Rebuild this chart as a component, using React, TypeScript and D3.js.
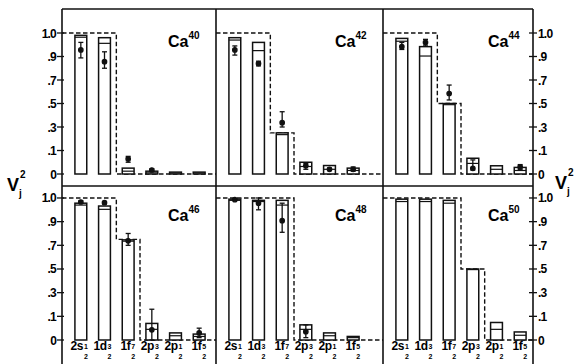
import React from 'react'
import * as d3 from 'd3'

// nuclei shown, panel order left->right, top->bottom
const masses = [40, 42, 44, 46, 48, 50]

// orbitals on the x axis (j written as n/2)
const orbitals = ['2s', '1d', '1f', '2p', '2p', '1f']
const orbitalJ = ['1', '3', '7', '3', '1', '5']

// the vertical axis is drawn with equally spaced ticks
const yTicks = [0, 0.1, 0.3, 0.5, 0.7, 0.9, 1.0]
const yTickLabels = ['0', '.1', '.3', '.5', '.7', '.9', '1.0']

// simple shell model occupancy (dashed step)
const shellModel = [
  [1, 1, 0, 0, 0, 0],
  [1, 1, 0.25, 0, 0, 0],
  [1, 1, 0.5, 0, 0, 0],
  [1, 1, 0.75, 0, 0, 0],
  [1, 1, 1, 0, 0, 0],
  [1, 1, 1, 0.5, 0, 0],
]

// calculated V^2 (bar top) and second calculation (line inside bar)
const barTop = [
  [0.99, 0.98, 0.025, 0.012, 0.008, 0.008],
  [0.98, 0.96, 0.25, 0.05, 0.036, 0.025],
  [0.977, 0.942, 0.5, 0.067, 0.035, 0.028],
  [0.978, 0.966, 0.746, 0.07, 0.03, 0.025],
  [0.995, 0.99, 0.99, 0.064, 0.03, 0.015],
  [0.995, 0.995, 0.99, 0.5, 0.074, 0.034],
]
const barInner = [
  [0.982, 0.956, 0.012, 0.005, 0.004, 0.004],
  [0.97, 0.925, 0.235, 0.032, 0.02, 0.015],
  [0.965, 0.902, 0.49, 0.045, 0.02, 0.015],
  [0.97, 0.952, 0.735, 0.045, 0.018, 0.015],
  [0.99, 0.985, 0.97, 0.045, 0.018, 0.01],
  [0.985, 0.985, 0.978, 0.495, 0.045, 0.02],
]

// experiment: [value, low, high]
type Pt = [number, number, number] | null
const measured: Pt[][] = [
  [[0.928, 0.888, 0.96], [0.856, 0.8, 0.92], [0.064, 0.05, 0.075], [0.017, 0.012, 0.022], null, null],
  [[0.928, 0.906, 0.945], [0.84, 0.82, 0.86], [0.337, 0.3, 0.43], [0.035, 0.02, 0.045], [0.02, 0.015, 0.025], [0.02, 0.012, 0.03]],
  [[0.942, 0.93, 0.96], [0.96, 0.945, 0.973], [0.585, 0.53, 0.657], [0.024, 0.017, 0.06], null, [0.03, 0.02, 0.04]],
  [[0.983, 0.978, 0.988], [0.98, 0.975, 0.985], [0.738, 0.7, 0.8], [0.043, 0.0, 0.16], null, [0.03, 0.01, 0.05]],
  [[0.993, 0.99, 0.997], [0.978, 0.95, 1.0], [0.904, 0.81, 0.978], [0.035, 0.01, 0.064], null, null],
  [null, null, null, null, null, null],
]

const W = 574
const H = 364
const colX = [62, 216, 383, 533]
const rows = [
  { top: 9, bottom: 186, base: 174, step: 23.5, titleY: 47 },
  { top: 186, bottom: 364, base: 340, step: 23.67, titleY: 221 },
]
const titleX = [168, 335, 488]
const font = '"Liberation Sans", Arial, sans-serif'

const Panel = ({ p }: { p: number }) => {
  const col = p % 3
  const row = rows[Math.floor(p / 3)]
  const left = colX[col]
  const right = colX[col + 1]

  const y = d3
    .scaleLinear()
    .domain(yTicks)
    .range(yTicks.map((_, i) => row.base - i * row.step))

  const x = d3
    .scaleBand<number>()
    .domain(d3.range(orbitals.length))
    .range([left + 7, left + 149])
    .paddingInner(0.5)
    .paddingOuter(0.25)
  const bw = x.bandwidth()
  const st = x.step()
  const cx = (i: number) => (x(i) as number) + bw / 2

  // dashed step line
  const pts: [number, number][] = []
  shellModel[p].forEach((v, i) => {
    const a = i === 0 ? left : cx(i) - st / 2
    const b = i === orbitals.length - 1 ? right : cx(i) + st / 2
    pts.push([a, y(v)], [b, y(v)])
  })
  const line = d3.line()

  return (
    <g>
      <path d={line(pts) || ''} fill="none" stroke="#111" strokeWidth={1.4} strokeDasharray="4.5 2.5" />
      {barTop[p].map((v, i) => (
        <g key={i}>
          <rect x={x(i)} y={y(v)} width={bw} height={y(0) - y(v)} fill="white" stroke="#111" strokeWidth={1.5} />
          <line x1={x(i)} x2={(x(i) as number) + bw} y1={y(barInner[p][i])} y2={y(barInner[p][i])} stroke="#111" strokeWidth={1.2} />
        </g>
      ))}
      {measured[p].map((m, i) =>
        m ? (
          <g key={i} stroke="#111" strokeWidth={1.3}>
            <line x1={cx(i)} x2={cx(i)} y1={y(m[1])} y2={y(m[2])} />
            <line x1={cx(i) - 2.5} x2={cx(i) + 2.5} y1={y(m[1])} y2={y(m[1])} />
            <line x1={cx(i) - 2.5} x2={cx(i) + 2.5} y1={y(m[2])} y2={y(m[2])} />
            <circle cx={cx(i)} cy={y(m[0])} r={2.2} fill="#111" />
          </g>
        ) : null
      )}
      <text x={titleX[col]} y={row.titleY} fontFamily={font} fontWeight="bold" fontSize={16}>
        Ca
        <tspan fontSize={10} dy={-8}>{masses[p]}</tspan>
      </text>
      {col === 0 &&
        yTicks.map((t, i) => (
          <g key={t}>
            <line x1={left - 5} x2={left + 2} y1={y(t)} y2={y(t)} stroke="#111" strokeWidth={1.3} />
            <text x={left - 6} y={y(t) + 4.5} textAnchor="end" fontFamily={font} fontWeight="bold" fontSize={12} letterSpacing={-0.8}>
              {yTickLabels[i]}
            </text>
          </g>
        ))}
      {col === 2 &&
        yTicks.map((t, i) => (
          <g key={t}>
            <line x1={right - 4} x2={right + 4} y1={y(t)} y2={y(t)} stroke="#111" strokeWidth={1.3} />
            <text x={right + 5} y={y(t) + 4.5} fontFamily={font} fontWeight="bold" fontSize={12} letterSpacing={-0.8}>
              {yTickLabels[i]}
            </text>
          </g>
        ))}
      {row.base > 300 &&
        orbitals.map((o, i) => (
          <g key={i} fontFamily={font} fontWeight="bold">
            <text x={cx(i) + 2} y={350} textAnchor="end" fontSize={12} letterSpacing={-0.5}>
              {o}
            </text>
            <text x={cx(i) + 5} y={349} textAnchor="middle" fontSize={7}>
              {orbitalJ[i]}
            </text>
            <text x={cx(i) + 5} y={359} textAnchor="middle" fontSize={7}>
              2
            </text>
          </g>
        ))}
    </g>
  )
}

// V_j^2 axis title, pieces kept apart so they stack like the print
const VLabel = ({ x, yy }: { x: number; yy: number }) => (
  <g fontFamily={font} fontWeight="bold">
    <text x={x} y={yy} fontSize={18}>V</text>
    <text x={x + 12} y={yy + 6} fontSize={10}>j</text>
    <text x={x + 13} y={yy - 13} fontSize={10}>2</text>
  </g>
)

export default function App() {
  return (
    <svg width={W} height={H} style={{ position: 'absolute', left: 0, top: 0, background: 'white' }}>
      {masses.map((_, p) => (
        <Panel key={p} p={p} />
      ))}
      <g stroke="#111" strokeWidth={1.6} fill="none">
        {colX.map((cx) => (
          <line key={cx} x1={cx} x2={cx} y1={rows[0].top} y2={H} />
        ))}
        <line x1={colX[0]} x2={colX[3]} y1={rows[0].top} y2={rows[0].top} />
        <line x1={colX[0]} x2={colX[3]} y1={rows[1].top} y2={rows[1].top} />
      </g>
      <VLabel x={7} yy={191} />
      <VLabel x={555} yy={189} />
    </svg>
  )
}
